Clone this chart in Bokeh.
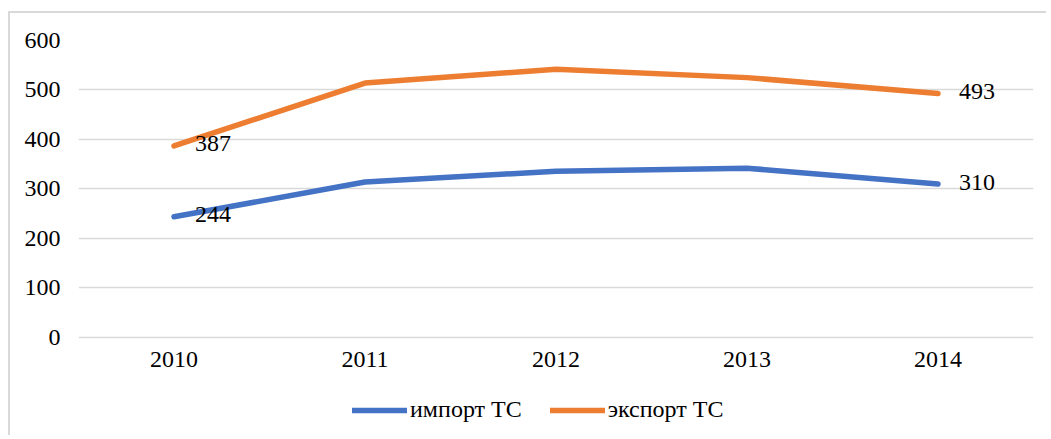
from bokeh.plotting import figure
from bokeh.models import ColumnDataSource, Legend, LegendItem, FixedTicker, Range1d
from bokeh.core.properties import value
from bokeh.embed import file_html
from bokeh.resources import INLINE

years = ["2010", "2011", "2012", "2013", "2014"]
import_tc = [244, 314, 336, 342, 310]
export_tc = [387, 514, 542, 525, 493]
y_ticks = [0, 100, 200, 300, 400, 500, 600]
series_names = ["импорт ТС", "экспорт ТС"]

BLUE = "#4472C4"
ORANGE = "#ED7D31"
GRID = "#D9D9D9"
FONT = "Liberation Serif"
FS = "24px"

src = ColumnDataSource(dict(year=years, imp=import_tc, exp=export_tc))
lab_idx = [0, len(years) - 1]
lab_src = ColumnDataSource(dict(
    year=[years[i] for i in lab_idx] * 2,
    val=[import_tc[i] for i in lab_idx] + [export_tc[i] for i in lab_idx],
    txt=[str(import_tc[i]) for i in lab_idx] + [str(export_tc[i]) for i in lab_idx],
))

# frame spans 0..600 over the upper part; the lower part holds axis labels and legend
p = figure(x_range=years, y_range=Range1d(-198, 600), width=1038, height=424,
           output_backend="svg", toolbar_location=None,
           min_border_left=68, min_border_right=15, min_border_top=27,
           min_border_bottom=2)
p.styles = {"margin-left": "8px", "margin-top": "11px",
            "border-left": "2px solid #D9D9D9", "border-top": "2px solid #D9D9D9"}

r_imp = p.line("year", "imp", source=src, line_color=BLUE, line_width=5.5, line_cap="round", line_join="round")
r_exp = p.line("year", "exp", source=src, line_color=ORANGE, line_width=5.5, line_cap="round", line_join="round")

p.text("year", "val", text="txt", source=lab_src, x_offset=21, y_offset=-2, text_align="left",
       text_baseline="middle", text_font=value(FONT), text_font_size=FS, text_color="#000000")

p.outline_line_color = None
p.xgrid.grid_line_color = None
p.ygrid.grid_line_color = GRID
p.ygrid.grid_line_width = 1.5
p.yaxis.ticker = FixedTicker(ticks=y_ticks)
p.xaxis.fixed_location = 0

for ax in (p.xaxis[0], p.yaxis[0]):
    ax.axis_line_color = None
    ax.major_tick_line_color = None
    ax.minor_tick_line_color = None
    ax.major_label_text_font = FONT
    ax.major_label_text_font_size = FS
    ax.major_label_text_color = "#000000"
p.yaxis.major_label_standoff = 12
p.xaxis.major_label_standoff = 9

legend = Legend(items=[LegendItem(label=series_names[0], renderers=[r_imp]),
                       LegendItem(label=series_names[1], renderers=[r_exp])],
                orientation="horizontal", location=(274, 12),
                label_text_font=FONT, label_text_font_size=FS, label_text_color="#000000",
                glyph_width=55, glyph_height=24, label_standoff=3, spacing=28,
                border_line_color=None, background_fill_alpha=0,
                margin=0, padding=0)
p.add_layout(legend, "center")

open("out.html", "w").write(file_html(p, INLINE))
